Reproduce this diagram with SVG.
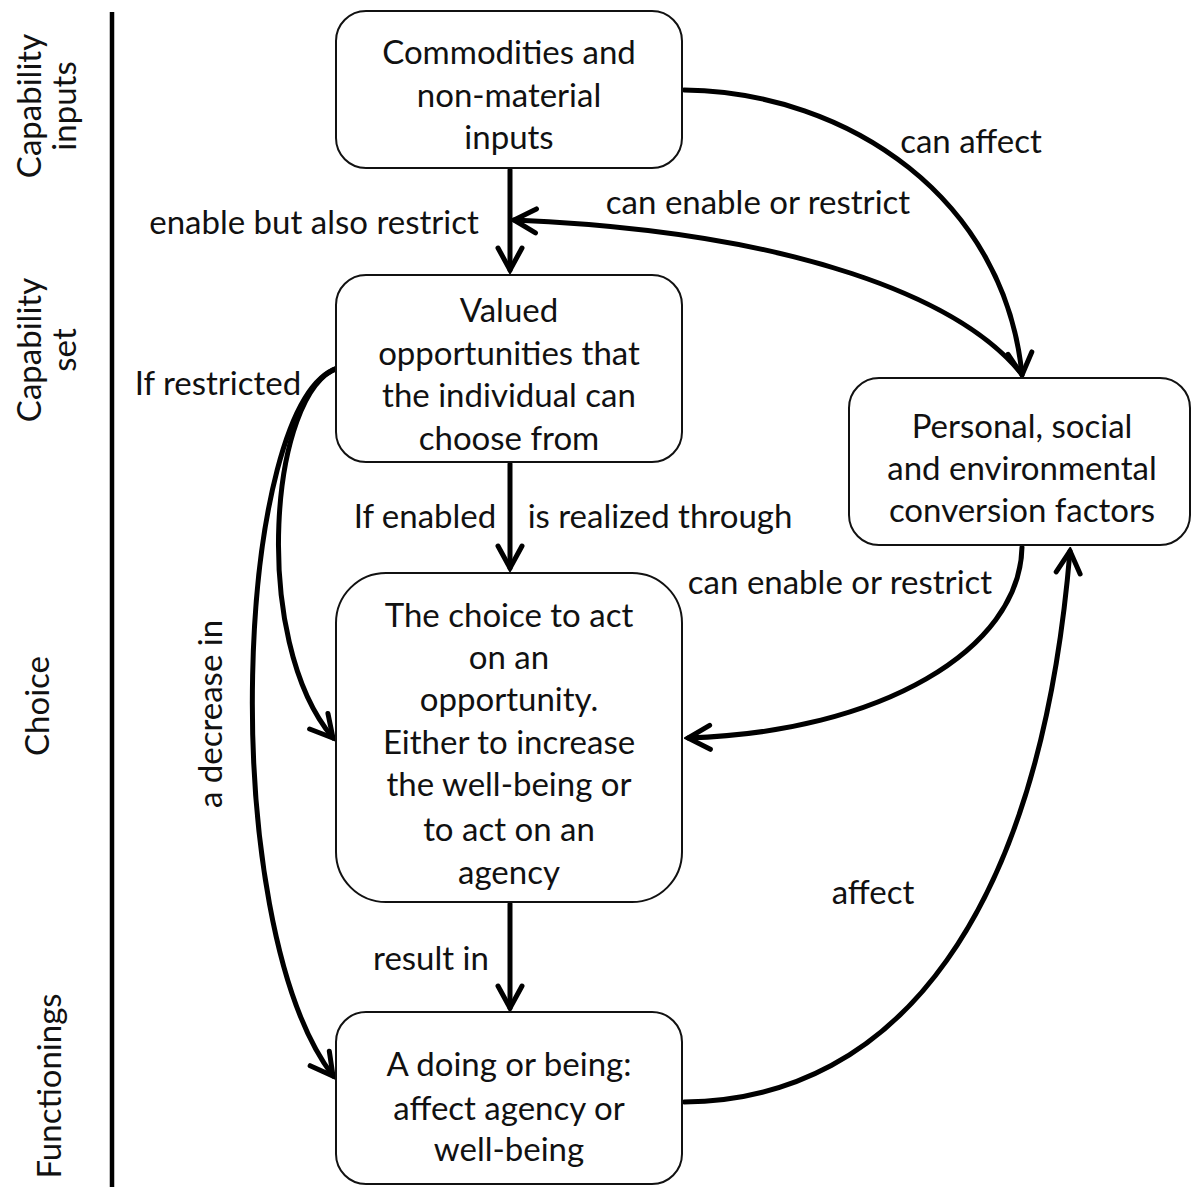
<svg xmlns="http://www.w3.org/2000/svg" width="1192" height="1187" viewBox="0 0 1192 1187">
<defs>
<style>
text{font-family:Lato,"Open Sans","Liberation Sans",sans-serif;font-size:33px;fill:#111;text-anchor:middle}
.box{fill:#fff;stroke:#111;stroke-width:2}
.c{fill:none;stroke:#000;stroke-width:5;stroke-linecap:round}
</style>
<marker id="ah" markerUnits="userSpaceOnUse" markerWidth="32" markerHeight="32" viewBox="0 0 32 32" refX="28" refY="16" orient="auto">
<path d="M6,4 L28,16 L6,28" fill="none" stroke="#000" stroke-width="5" stroke-linecap="round" stroke-linejoin="miter"/>
</marker>
</defs>
<rect width="1192" height="1187" fill="#fff"/>
<line x1="112" y1="12" x2="112" y2="1187" stroke="#000" stroke-width="4.5"/>
<g id="stages">
<text transform="translate(41,106) rotate(-90)">Capability</text>
<text transform="translate(76,106) rotate(-90)">inputs</text>
<text transform="translate(41,350) rotate(-90)">Capability</text>
<text transform="translate(76,350) rotate(-90)">set</text>
<text transform="translate(49,706) rotate(-90)">Choice</text>
<text transform="translate(61,1086) rotate(-90)">Functionings</text>
</g>
<g id="connectors">
<path class="c" d="M510,170 L510,270" marker-end="url(#ah)"/>
<path class="c" d="M510,464 L510,568" marker-end="url(#ah)"/>
<path class="c" d="M510,904 L510,1008" marker-end="url(#ah)"/>
<path class="c" d="M684,90 C850,92 1005,200 1022,375" marker-end="url(#ah)"/>
<path class="c" d="M1020,372 C960,300 800,232 514,220" marker-end="url(#ah)"/>
<path class="c" d="M1022,547 C1020,650 880,732 688,738" marker-end="url(#ah)"/>
<path class="c" d="M684,1102 C900,1100 1040,910 1070,551" marker-end="url(#ah)"/>
<path class="c" d="M338,368 C270,390 250,640 333,738" marker-end="url(#ah)"/>
<path class="c" d="M338,368 C235,400 215,920 333,1076" marker-end="url(#ah)"/>
</g>
<g id="labels">
<text x="971" y="153">can affect</text>
<text x="758" y="214">can enable or restrict</text>
<text x="314" y="234">enable but also restrict</text>
<text x="218" y="395">If restricted</text>
<text x="425" y="528">If enabled</text>
<text x="660" y="528">is realized through</text>
<text x="840" y="594">can enable or restrict</text>
<text transform="translate(222,714) rotate(-90)">a decrease in</text>
<text x="431" y="970">result in</text>
<text x="873" y="904">affect</text>
</g>
<g id="n1">
<rect class="box" x="336" y="11" width="346" height="157" rx="30"/>
<text x="509" y="64">Commodities and</text>
<text x="509" y="107">non-material</text>
<text x="509" y="149">inputs</text>
</g>
<g id="n2">
<rect class="box" x="336" y="275" width="346" height="187" rx="30"/>
<text x="509" y="322">Valued</text>
<text x="509" y="365">opportunities that</text>
<text x="509" y="407">the individual can</text>
<text x="509" y="450">choose from</text>
</g>
<g id="n3">
<rect class="box" x="336" y="573" width="346" height="329" rx="50"/>
<text x="509" y="627">The choice to act</text>
<text x="509" y="669">on an</text>
<text x="509" y="711">opportunity.</text>
<text x="509" y="754">Either to increase</text>
<text x="509" y="796">the well-being or</text>
<text x="509" y="841">to act on an</text>
<text x="509" y="884">agency</text>
</g>
<g id="n4">
<rect class="box" x="336" y="1012" width="346" height="172" rx="30"/>
<text x="509" y="1076">A doing or being:</text>
<text x="509" y="1120">affect agency or</text>
<text x="509" y="1161">well-being</text>
</g>
<g id="n5">
<rect class="box" x="849" y="378" width="341" height="167" rx="30"/>
<text x="1022" y="438">Personal, social</text>
<text x="1022" y="480">and environmental</text>
<text x="1022" y="522">conversion factors</text>
</g>
</svg>
